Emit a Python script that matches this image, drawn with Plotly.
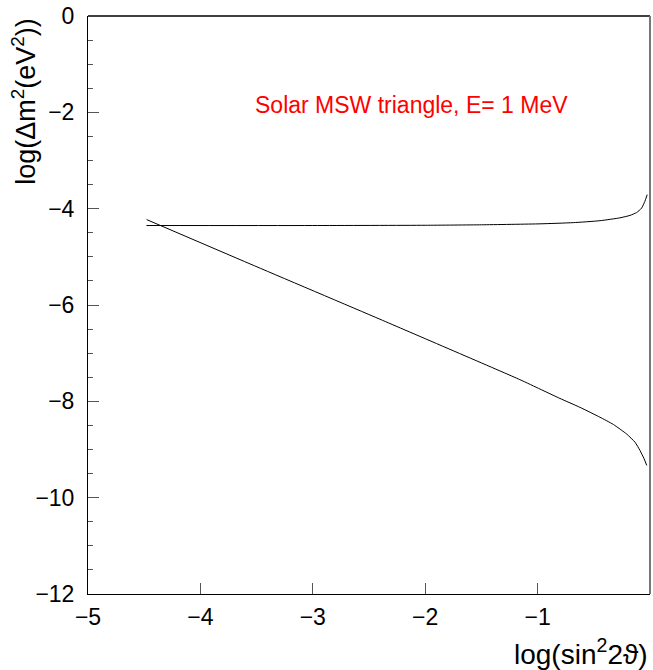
import plotly.graph_objects as go

# Upper boundary of MSW triangle
upper_x = [-4.48, -3.0, -2.0, -1.5, -0.979, -0.682, -0.445, -0.267, -0.178, -0.119, -0.075, -0.046, -0.025]
upper_y = [-4.35, -4.35, -4.345, -4.335, -4.315, -4.29, -4.25, -4.19, -4.14, -4.08, -3.99, -3.85, -3.71]

# Lower (diagonal) boundary
lower_x = [-4.478, -3.559, -2.402, -1.157, -0.979, -0.801, -0.623, -0.445, -0.326, -0.207, -0.133, -0.089, -0.053, -0.029]
lower_y = [-4.227, -5.146, -6.296, -7.55, -7.745, -7.94, -8.125, -8.33, -8.48, -8.68, -8.85, -9.02, -9.19, -9.33]

x_ticks = [-5, -4, -3, -2, -1, 0]
y_ticks = [0, -2, -4, -6, -8, -10, -12]

FONT = "Liberation Sans"

fig = go.Figure()
fig.add_trace(go.Scatter(x=upper_x, y=upper_y, mode="lines",
                         line=dict(color="black", width=1, shape="spline", smoothing=0.5),
                         showlegend=False))
fig.add_trace(go.Scatter(x=lower_x, y=lower_y, mode="lines",
                         line=dict(color="black", width=1, shape="spline", smoothing=0.5),
                         showlegend=False))

fig.update_layout(
    width=653, height=670,
    margin=dict(l=88, r=3, t=14, b=76),
    paper_bgcolor="white", plot_bgcolor="white",
    font=dict(family=FONT, color="black"),
)
fig.update_xaxes(
    range=[-5, 0], tickvals=x_ticks, showgrid=False, zeroline=False,
    showline=True, linecolor="black", linewidth=1,
    ticks="inside", ticklen=11, tickcolor="#555", tickwidth=1,
    tickfont=dict(size=23, family=FONT), ticklabelstandoff=2,
)
fig.update_yaxes(
    range=[-12, 0], tickvals=y_ticks, showgrid=False, zeroline=False,
    showline=True, linecolor="black", linewidth=1,
    ticks="inside", ticklen=11, tickcolor="#555", tickwidth=1,
    minor=dict(ticks="inside", ticklen=5, dtick=0.5, tickcolor="#555", showgrid=False),
    tickfont=dict(size=23, family=FONT), ticklabelstandoff=8,
)

# top and right frame lines
fig.add_shape(type="line", xref="paper", yref="paper", x0=0, x1=1, y0=1, y1=1,
              line=dict(color="black", width=1.5))
fig.add_shape(type="line", xref="paper", yref="paper", x0=1, x1=1, y0=0, y1=1,
              line=dict(color="#777", width=2))

fig.add_annotation(text="Solar MSW triangle, E= 1 MeV", x=-2.126, y=-1.84,
                   xref="x", yref="y", showarrow=False,
                   font=dict(color="red", size=23, family=FONT))

fig.add_annotation(text="log(sin<sup>2</sup>2ϑ)", xref="paper", yref="paper",
                   x=1.0, y=-0.0655, xanchor="right", yanchor="top", showarrow=False,
                   font=dict(size=28, family=FONT))

fig.add_annotation(text="log(Δm<sup>2</sup>(eV<sup>2</sup>))", xref="paper", yref="paper",
                   x=-0.115, y=1.0, xanchor="center", yanchor="top", textangle=-90,
                   showarrow=False, font=dict(size=27, family=FONT))

fig.write_html("out.html")
